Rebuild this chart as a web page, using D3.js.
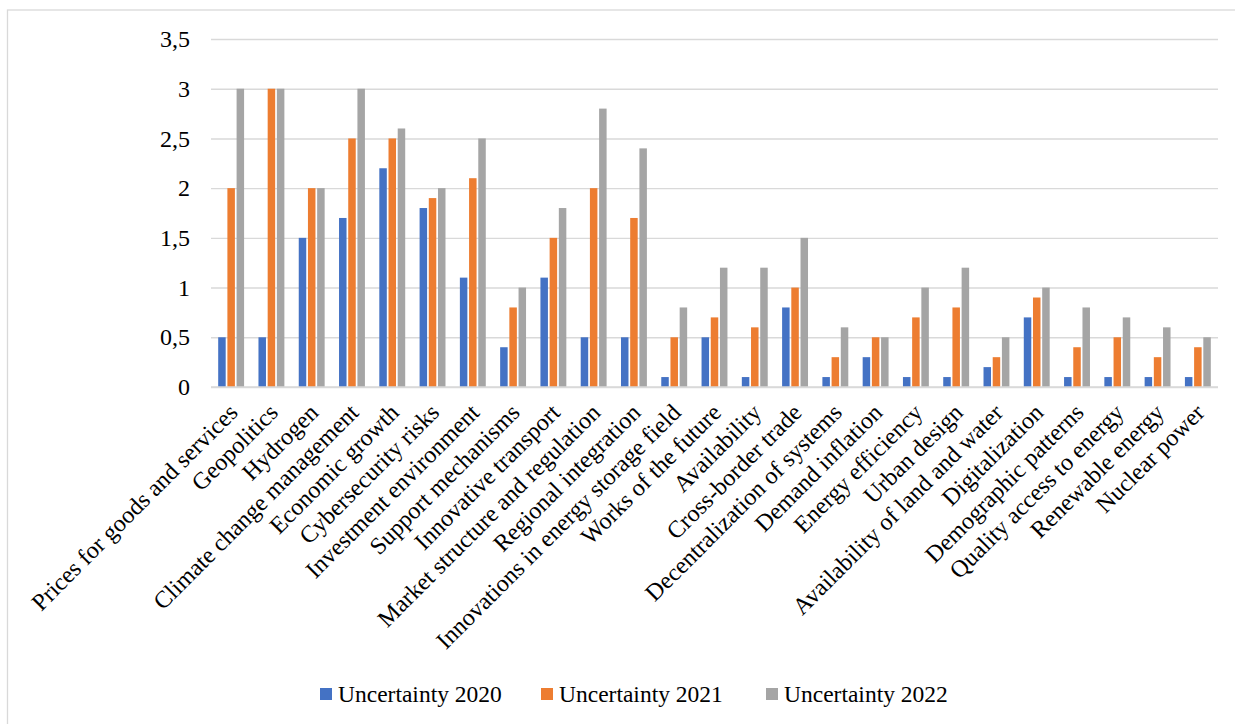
<!DOCTYPE html>
<html>
<head>
<meta charset="utf-8">
<script src="https://cdn.jsdelivr.net/npm/d3@7/dist/d3.min.js"></script>
<style>
  html, body { margin: 0; padding: 0; background: #fff; }
  svg { display: block; }
  svg text { font-family: 'Liberation Serif', 'Times New Roman', 'DejaVu Serif', serif !important; fill: #000; }
</style>
</head>
<body>
<svg id="chart" width="1235" height="724"></svg>
<script>
// Uncertainty scores by driver, three survey years
const categories = [
  "Prices for goods and services",
  "Geopolitics",
  "Hydrogen",
  "Climate change management",
  "Economic growth",
  "Cybersecurity risks",
  "Investment environment",
  "Support mechanisms",
  "Innovative transport",
  "Market structure and regulation",
  "Regional integration",
  "Innovations in energy storage field",
  "Works of the future",
  "Availability",
  "Cross-border trade",
  "Decentralization of systems",
  "Demand inflation",
  "Energy efficiency",
  "Urban design",
  "Availability of land and water",
  "Digitalization",
  "Demographic patterns",
  "Quality access to energy",
  "Renewable energy",
  "Nuclear power"
];
const uncertainty2020 = [0.5, 0.5, 1.5, 1.7, 2.2, 1.8, 1.1, 0.4, 1.1, 0.5, 0.5, 0.1, 0.5, 0.1, 0.8, 0.1, 0.3, 0.1, 0.1, 0.2, 0.7, 0.1, 0.1, 0.1, 0.1];
const uncertainty2021 = [2, 3, 2, 2.5, 2.5, 1.9, 2.1, 0.8, 1.5, 2, 1.7, 0.5, 0.7, 0.6, 1, 0.3, 0.5, 0.7, 0.8, 0.3, 0.9, 0.4, 0.5, 0.3, 0.4];
const uncertainty2022 = [3, 3, 2, 3, 2.6, 2, 2.5, 1, 1.8, 2.8, 2.4, 0.8, 1.2, 1.2, 1.5, 0.6, 0.5, 1, 1.2, 0.5, 1, 0.8, 0.7, 0.6, 0.5];
const seriesNames = ["Uncertainty 2020", "Uncertainty 2021", "Uncertainty 2022"];
const seriesColors = ["#4472C4", "#ED7D31", "#A5A5A5"];
const yTicks = [0, 0.5, 1, 1.5, 2, 2.5, 3, 3.5];

const seriesValues = [uncertainty2020, uncertainty2021, uncertainty2022];
const serif = "'Liberation Serif', 'Times New Roman', 'DejaVu Serif', serif";

const svg = d3.select("#chart");

// chart area frame
svg.append("rect")
  .attr("x", 7.5).attr("y", 10)
  .attr("width", 1240).attr("height", 730)
  .attr("fill", "none").attr("stroke", "#d9d9d9").attr("stroke-width", 1.3);

const plot = { left: 211, right: 1218, top: 39, bottom: 387 };

const x = d3.scaleBand()
  .domain(categories)
  .range([plot.left, plot.right]);

const y = d3.scaleLinear()
  .domain([0, 3.5])
  .range([plot.bottom, plot.top]);

const fmt = v => String(v).replace(".", ",");

// horizontal gridlines and value labels
const yAxis = d3.axisLeft(y)
  .tickValues(yTicks)
  .tickFormat(fmt)
  .tickSize(-(plot.right - plot.left))
  .tickPadding(21);

const gy = svg.append("g")
  .attr("transform", `translate(${plot.left},0)`)
  .call(yAxis)
  .attr("font-family", serif)
  .attr("font-size", 24);
gy.select(".domain").remove();
gy.selectAll(".tick line").attr("stroke", "#d9d9d9").attr("stroke-width", 1.4);
gy.selectAll(".tick text")
  .style("font-family", serif)
  .style("font-size", "24px")
  .attr("fill", "#000");

// grouped bars
const step = 9.2;
const barW = 7.5;
const groupOffset = (x.bandwidth() - 3 * step) / 2;

const groups = svg.append("g").selectAll("g.series")
  .data(seriesValues)
  .join("g")
  .attr("class", "series")
  .attr("fill", (d, i) => seriesColors[i]);

groups.each(function (vals, si) {
  d3.select(this).selectAll("rect")
    .data(vals)
    .join("rect")
    .attr("x", (v, ci) => x(categories[ci]) + groupOffset + si * step + 0.85)
    .attr("width", barW)
    .attr("y", v => y(v))
    .attr("height", v => y(0) - y(v));
});

// baseline on top of bars
svg.append("line")
  .attr("x1", plot.left).attr("x2", plot.right)
  .attr("y1", y(0)).attr("y2", y(0))
  .attr("stroke", "#d9d9d9").attr("stroke-width", 1.4);

// rotated category labels
const xAxis = d3.axisBottom(x).tickSize(0).tickPadding(0);
const gx = svg.append("g")
  .attr("transform", `translate(0,${plot.bottom})`)
  .call(xAxis)
  .attr("font-family", serif)
  .attr("font-size", 24);
gx.select(".domain").remove();
gx.selectAll(".tick text")
  .style("font-family", serif)
  .style("font-size", "24px")
  .attr("fill", "#000")
  .attr("text-anchor", "end")
  .attr("dy", 0)
  .attr("y", 0)
  .attr("transform", "translate(8,27) rotate(-45)");

// legend
const legendX = [320, 541, 766];
const legend = svg.append("g").selectAll("g")
  .data(seriesNames)
  .join("g")
  .attr("transform", (d, i) => `translate(${legendX[i]},688)`);
legend.append("rect")
  .attr("width", 12).attr("height", 12)
  .attr("fill", (d, i) => seriesColors[i]);
legend.append("text")
  .attr("x", 18).attr("y", 14)
  .style("font-family", serif)
  .style("font-size", "23.5px")
  .text(d => d);
</script>
</body>
</html>
